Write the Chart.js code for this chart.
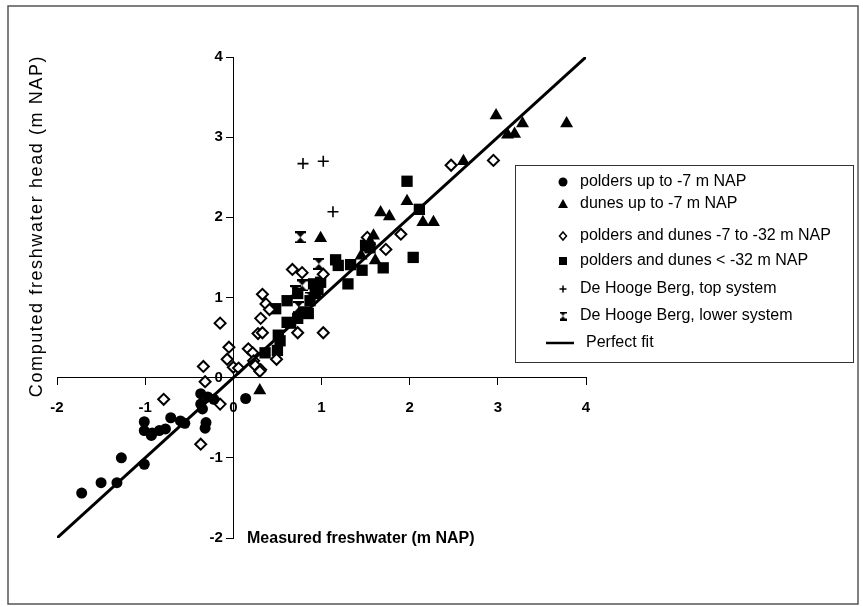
<!DOCTYPE html>
<html>
<head>
<meta charset="utf-8">
<title>Computed vs measured freshwater head</title>
<script src="https://cdn.jsdelivr.net/npm/chart.js@4.4.1/dist/chart.umd.min.js"></script>
<style>
	html, body { margin: 0; padding: 0; background: #fff; }
	#wrap { position: relative; width: 863px; height: 607px; }
</style>
</head>
<body>
<div id="wrap"><canvas id="myChart" width="863" height="607"></canvas></div>
<script>
(function(){

	"use strict";

// Data (x = measured, y = computed, m NAP)
	const poldersX = [-1.72, -1.50, -1.32, -1.27, -1.01, -1.01, -1.01, -0.93, -0.92, -0.84, -0.77, -0.71, -0.60, -0.55, -0.37, -0.37, -0.35, -0.29, -0.22, -0.31, -0.32, 0.14];
	const poldersY = [-1.44, -1.31, -1.31, -1.00, -1.08, -0.55, -0.66, -0.72, -0.69, -0.66, -0.64, -0.50, -0.54, -0.57, -0.20, -0.33, -0.39, -0.24, -0.27, -0.56, -0.63, -0.26];

	const dunesX = [2.98, 3.28, 3.78, 3.11, 3.19, 2.61, 2.15, 2.27, 1.97, 1.67, 1.77, 0.99, 1.61, 1.59, 0.30, 1.52, 1.55, 1.45];
	const dunesY = [3.27, 3.17, 3.17, 3.03, 3.04, 2.70, 1.94, 1.94, 2.20, 2.06, 2.01, 1.74, 1.46, 1.77, -0.16, 1.62, 1.70, 1.52];

	const midX = [0.67, 0.78, 1.02, 0.33, 0.37, 0.41, -0.15, 0.31, 0.28, 0.33, 0.73, 1.02, -0.05, 0.17, -0.07, 0.22, 0.49, 0.23, 0.25, 0.00, 0.06, -0.34, -0.32, 0.31, -0.79, -0.37, -0.15, 0.30, 1.90, 1.73, 1.52, 2.47, 2.95];
	const midY = [1.35, 1.31, 1.29, 1.04, 0.92, 0.85, 0.68, 0.74, 0.55, 0.56, 0.56, 0.56, 0.38, 0.36, 0.23, 0.31, 0.23, 0.21, 0.15, 0.13, 0.12, 0.14, -0.05, 0.10, -0.27, -0.83, -0.33, 0.08, 1.79, 1.60, 1.75, 2.65, 2.71];

	const deepX = [1.97, 2.11, 2.04, 1.70, 1.16, 1.19, 1.33, 1.46, 1.30, 0.48, 0.61, 0.73, 0.65, 0.53, 0.50, 0.36, 0.85, 0.73, 0.91, 0.99, 0.87, 0.93, 0.96, 0.80, 0.61, 0.51, 1.50, 1.55];
	const deepY = [2.45, 2.10, 1.50, 1.37, 1.47, 1.40, 1.41, 1.34, 1.17, 0.86, 0.96, 1.05, 0.68, 0.46, 0.34, 0.31, 0.80, 0.74, 1.17, 1.19, 0.96, 1.05, 1.10, 0.82, 0.69, 0.53, 1.65, 1.62];

	const topX = [0.79, 1.02, 1.13];
	const topY = [2.67, 2.70, 2.07];

	const lowerX = [0.76, 0.97, 0.78, 0.70, 0.74, 0.88];
	const lowerY = [1.75, 1.42, 1.15, 1.08, 0.88, 1.00];

	const fitX = [-2, 4];
	const fitY = [-2, 4];

	const axisTicks = [-2, -1, 0, 1, 2, 3, 4];

	const legendLabels = [
		"polders up to -7 m NAP",
		"dunes up to -7 m NAP",
		"polders and dunes -7 to -32 m NAP",
		"polders and dunes < -32 m NAP",
		"De Hooge Berg, top system",
		"De Hooge Berg, lower system",
		"Perfect fit"
	];

// Fonts
	const sans = "'Liberation Sans', Arial, sans-serif";

	function pairs(xs, ys){
		return xs.map(function(x, i){ return {x: x, y: ys[i]}; });
	}

// Hourglass marker (no built in style for it)
	function makeHourglass(w, h){
		const c = document.createElement("canvas");
		c.width = w;
		c.height = h;
		const g = c.getContext("2d");
		g.fillStyle = "#000";
		g.beginPath();
		g.moveTo(0, 0); g.lineTo(w, 0); g.lineTo(w / 2, h / 2); g.closePath();
		g.moveTo(0, h); g.lineTo(w, h); g.lineTo(w / 2, h / 2); g.closePath();
		g.fill();
		g.fillRect(0, 0, w, 2);
		g.fillRect(0, h - 2, w, 2);
		return c;
	}
	const hourglass = makeHourglass(11, 12);

// Frame, axis titles and legend box
	const decorations = {
		id: "decorations",
		afterDraw: function(chart){
			const ctx = chart.ctx;
			ctx.save();

			ctx.strokeStyle = "#555";
			ctx.lineWidth = 1.5;
			ctx.strokeRect(8, 6, 850, 598);

			ctx.fillStyle = "#000";
			ctx.font = "bold 16px " + sans;
			ctx.textAlign = "left";
			ctx.textBaseline = "middle";
			ctx.fillText("Measured freshwater (m NAP)", 247, 539);

			ctx.save();
			ctx.translate(37, 226);
			ctx.rotate(-Math.PI / 2);
			ctx.font = "18px " + sans;
			ctx.letterSpacing = "1.6px";
			ctx.textAlign = "center";
			ctx.fillText("Computed freshwater head (m NAP)", 0, 0);
			ctx.restore();

			// legend
			ctx.strokeStyle = "#333";
			ctx.lineWidth = 1;
			ctx.strokeRect(515.5, 165.5, 338, 197);
			const rows = [182, 204, 236, 261, 289, 316, 343];
			const sx = 563;
			ctx.font = "16px " + sans;
			ctx.textAlign = "left";
			for (let i = 0; i < legendLabels.length; i++){
				const y = rows[i];
				ctx.fillStyle = "#000";
				ctx.strokeStyle = "#000";
				ctx.beginPath();
				if (i == 0){
					ctx.arc(sx, y, 4.5, 0, 2 * Math.PI);
					ctx.fill();
				}
				else if (i == 1){
					ctx.moveTo(sx, y - 5); ctx.lineTo(sx + 5, y + 4); ctx.lineTo(sx - 5, y + 4); ctx.closePath();
					ctx.fill();
				}
				else if (i == 2){
					ctx.lineWidth = 1.5;
					ctx.moveTo(sx, y - 4); ctx.lineTo(sx + 3.5, y); ctx.lineTo(sx, y + 4); ctx.lineTo(sx - 3.5, y); ctx.closePath();
					ctx.fillStyle = "#fff";
					ctx.fill();
					ctx.stroke();
				}
				else if (i == 3){
					ctx.fillRect(sx - 4, y - 4, 8, 8);
				}
				else if (i == 4){
					ctx.lineWidth = 1.5;
					ctx.moveTo(sx - 3.5, y); ctx.lineTo(sx + 3.5, y);
					ctx.moveTo(sx, y - 3.5); ctx.lineTo(sx, y + 3.5);
					ctx.stroke();
				}
				else if (i == 5){
					ctx.drawImage(makeHourglass(7, 9), sx - 3.5, y - 4.5);
				}
				else {
					ctx.lineWidth = 2.5;
					ctx.moveTo(546, y); ctx.lineTo(574, y);
					ctx.stroke();
				}
				ctx.fillStyle = "#000";
				ctx.fillText(legendLabels[i], i == 6 ? 586 : 580, y);
			}
			ctx.restore();
		}
	};

	const tickFont = { family: sans, size: 15, weight: "bold" };

	const data = {
		datasets: [{
			label: legendLabels[6],
			type: "line",
			data: pairs(fitX, fitY),
			borderColor: "#000",
			borderWidth: 3,
			pointRadius: 0,
			fill: false,
			order: 0
		},
		{
			label: legendLabels[0],
			data: pairs(poldersX, poldersY),
			pointStyle: "circle",
			pointRadius: 5.5,
			backgroundColor: "#000",
			borderColor: "#000",
			borderWidth: 0
		},
		{
			label: legendLabels[1],
			data: pairs(dunesX, dunesY),
			pointStyle: "triangle",
			pointRadius: 7.5,
			backgroundColor: "#000",
			borderColor: "#000",
			borderWidth: 0
		},
		{
			label: legendLabels[2],
			data: pairs(midX, midY),
			pointStyle: "rectRot",
			pointRadius: 5.5,
			backgroundColor: "#fff",
			borderColor: "#000",
			borderWidth: 2
		},
		{
			label: legendLabels[3],
			data: pairs(deepX, deepY),
			pointStyle: "rect",
			pointRadius: 8,
			backgroundColor: "#000",
			borderColor: "#000",
			borderWidth: 0
		},
		{
			label: legendLabels[4],
			data: pairs(topX, topY),
			pointStyle: "cross",
			pointRadius: 5.5,
			borderColor: "#000",
			borderWidth: 1.6
		},
		{
			label: legendLabels[5],
			data: pairs(lowerX, lowerY),
			pointStyle: hourglass,
			pointRadius: 6
		}]
	};

	const config = {
		type: "scatter",
		data,
		options: {
			responsive: false,
			animation: false,
			layout: { padding: { left: 57, right: 277, top: 57, bottom: 69 } },
			plugins: {
				legend: { display: false },
				tooltip: { enabled: false }
			},
			scales: {
				x: {
					type: "linear",
					position: { y: 0 },
					min: -2,
					max: 4,
					afterBuildTicks: function(axis){
						axis.ticks = axisTicks.map(function(v){ return {value: v}; });
					},
					grid: { drawOnChartArea: false, drawTicks: true, tickLength: 7, color: "#000", lineWidth: 1 },
					border: { display: true, color: "#000", width: 1 },
					ticks: { font: tickFont, color: "#000", padding: 14 }
				},
				y: {
					type: "linear",
					position: { x: 0 },
					min: -2,
					max: 4,
					afterBuildTicks: function(axis){
						axis.ticks = axisTicks.map(function(v){ return {value: v}; });
					},
					grid: { drawOnChartArea: false, drawTicks: true, tickLength: 7, color: "#000", lineWidth: 1 },
					border: { display: true, color: "#000", width: 1 },
					// centred axis ignores padding, so push labels left with spaces
					ticks: {
						font: tickFont,
						color: "#000",
						callback: function(v){ return v + "\u2002\u2009"; }
					}
				}
			}
		},
		plugins: [decorations]
	};

	new Chart(document.getElementById("myChart"), config);

})();
</script>
</body>
</html>
